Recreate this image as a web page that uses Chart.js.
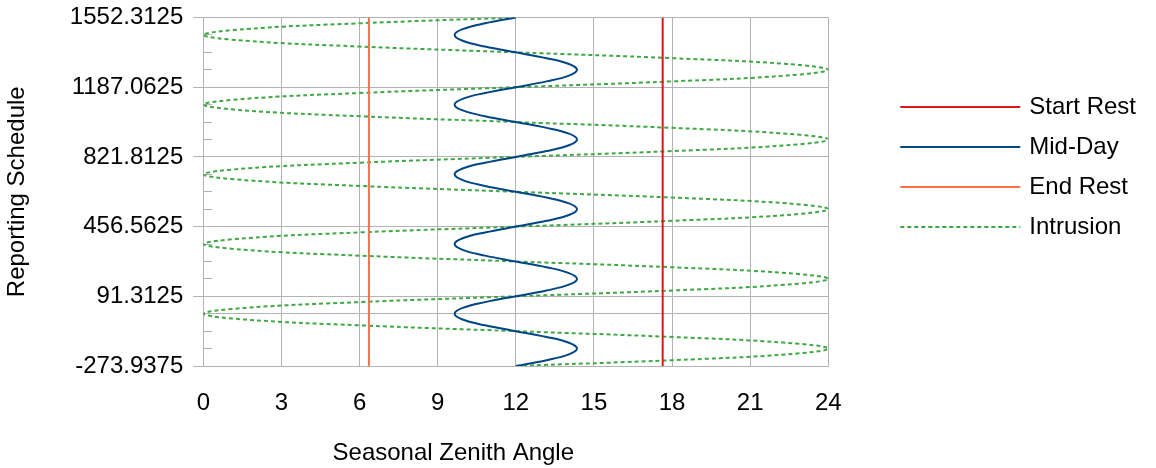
<!DOCTYPE html>
<html>
<head>
<meta charset="utf-8">
<title>Reporting Schedule</title>
<script src="https://cdn.jsdelivr.net/npm/chart.js@4.4.1/dist/chart.umd.min.js"></script>
<style>
  html, body { margin: 0; padding: 0; background: #ffffff; }
  #wrap { width: 1156px; height: 468px; position: relative; }
</style>
</head>
<body>
<div id="wrap"><canvas id="scheduleChart"></canvas></div>
<script>
// Y positions the curves were read at (every ~30 days)
const schedule = [
    -273.9375, -243.5, -213.0625, -182.625, -152.1875, -121.75, -91.3125, -60.875, -30.4375, 0, 30.4375, 60.875,
    91.3125, 121.75, 152.1875, 182.625, 213.0625, 243.5, 273.9375, 304.375, 334.8125, 365.25, 395.6875, 426.125,
    456.5625, 487, 517.4375, 547.875, 578.3125, 608.75, 639.1875, 669.625, 700.0625, 730.5, 760.9375, 791.375,
    821.8125, 852.25, 882.6875, 913.125, 943.5625, 974, 1004.4375, 1034.875, 1065.3125, 1095.75, 1126.1875, 1156.625,
    1187.0625, 1217.5, 1247.9375, 1278.375, 1308.8125, 1339.25, 1369.6875, 1400.125, 1430.5625, 1461, 1491.4375, 1521.875,
    1552.3125
];

// Mid-Day (solid blue)
const midDay = [
    12.0, 13.18, 14.04, 14.35, 14.04, 13.18, 12.0, 10.82, 9.96, 9.65, 9.96, 10.82,
    12.0, 13.18, 14.04, 14.35, 14.04, 13.18, 12.0, 10.82, 9.96, 9.65, 9.96, 10.82,
    12.0, 13.18, 14.04, 14.35, 14.04, 13.18, 12.0, 10.82, 9.96, 9.65, 9.96, 10.82,
    12.0, 13.18, 14.04, 14.35, 14.04, 13.18, 12.0, 10.82, 9.96, 9.65, 9.96, 10.82,
    12.0, 13.18, 14.04, 14.35, 14.04, 13.18, 12.0, 10.82, 9.96, 9.65, 9.96, 10.82,
    12.0
];

// Intrusion (dashed green)
const intrusion = [
    12.0, 18.0, 22.4, 24.0, 22.4, 18.0, 12.0, 6.0, 1.6, 0.0, 1.6, 6.0,
    12.0, 18.0, 22.4, 24.0, 22.4, 18.0, 12.0, 6.0, 1.6, 0.0, 1.6, 6.0,
    12.0, 18.0, 22.4, 24.0, 22.4, 18.0, 12.0, 6.0, 1.6, 0.0, 1.6, 6.0,
    12.0, 18.0, 22.4, 24.0, 22.4, 18.0, 12.0, 6.0, 1.6, 0.0, 1.6, 6.0,
    12.0, 18.0, 22.4, 24.0, 22.4, 18.0, 12.0, 6.0, 1.6, 0.0, 1.6, 6.0,
    12.0
];

// Start / End rest are straight vertical lines
const restSchedule = [-273.9375, 1552.3125];
const startRest = [17.64, 17.64];
const endRest = [6.36, 6.36];

// Axes
const xTicks = [0, 3, 6, 9, 12, 15, 18, 21, 24];
const yTicks = [-273.9375, 91.3125, 456.5625, 821.8125, 1187.0625, 1552.3125];
const yTickLabels = ["-273.9375", "91.3125", "456.5625", "821.8125", "1187.0625", "1552.3125"];
const yMinorTicks = [
    -273.9375, -182.625, -91.3125, 0, 91.3125, 182.625, 273.9375, 365.25, 456.5625, 547.875, 639.1875,
    730.5, 821.8125, 913.125, 1004.4375, 1095.75, 1187.0625, 1278.375, 1369.6875, 1461, 1552.3125
];

const xTitle = "Seasonal Zenith Angle";
const yTitle = "Reporting Schedule";

const GRID = "#b3b3b3";
const CLEAR = "rgba(0,0,0,0)";
const FONT = '24px "Liberation Sans", Arial, sans-serif';

Chart.defaults.font.family = '"Liberation Sans", Arial, sans-serif';
Chart.defaults.font.size = 24;
Chart.defaults.color = "#000000";

function toPoints(xs, ys) {
    return ys.map((y, i) => ({ x: xs[i], y: y }));
}

// x axis title sits left of centre in the original, so draw it here
const xTitlePlugin = {
    id: "xTitle",
    afterDraw(chart) {
        const { ctx, chartArea } = chart;
        ctx.save();
        ctx.font = FONT;
        ctx.fillStyle = "#000000";
        ctx.textAlign = "center";
        ctx.textBaseline = "middle";
        ctx.fillText(xTitle, chartArea.left + chartArea.width * 0.4, chartArea.bottom + 87);
        ctx.restore();
    }
};

// legend on the right, one row per dataset
const sideLegendPlugin = {
    id: "sideLegend",
    afterDraw(chart) {
        const { ctx, chartArea } = chart;
        const x0 = chartArea.right + 72;
        ctx.save();
        ctx.font = FONT;
        ctx.textAlign = "left";
        ctx.textBaseline = "middle";
        chart.data.datasets.forEach((ds, i) => {
            const y = Math.round(chartArea.top + 89.5 + i * 40);
            ctx.strokeStyle = ds.borderColor;
            ctx.lineWidth = ds.borderWidth;
            ctx.setLineDash(ds.borderDash || []);
            ctx.beginPath();
            ctx.moveTo(x0, y);
            ctx.lineTo(x0 + 120, y);
            ctx.stroke();
            ctx.setLineDash([]);
            ctx.fillStyle = "#000000";
            ctx.fillText(ds.label, x0 + 129, y);
        });
        ctx.restore();
    }
};

new Chart(document.getElementById("scheduleChart"), {
    type: "scatter",
    data: {
        datasets: [
            {
                label: "Start Rest",
                data: toPoints(startRest, restSchedule),
                borderColor: "#d7191c",
                backgroundColor: "#d7191c",
                borderWidth: 2,
                showLine: true,
                pointRadius: 0,
                tension: 0,
                yAxisID: "y"
            },
            {
                label: "Mid-Day",
                data: toPoints(midDay, schedule),
                borderColor: "#004586",
                backgroundColor: "#004586",
                borderWidth: 2,
                showLine: true,
                pointRadius: 0,
                tension: 0.4,
                yAxisID: "y"
            },
            {
                label: "End Rest",
                data: toPoints(endRest, restSchedule),
                borderColor: "#ff7043",
                backgroundColor: "#ff7043",
                borderWidth: 2,
                showLine: true,
                pointRadius: 0,
                tension: 0,
                yAxisID: "y"
            },
            {
                label: "Intrusion",
                data: toPoints(intrusion, schedule),
                borderColor: "#3fa845",
                backgroundColor: "#3fa845",
                borderWidth: 2,
                borderDash: [4, 3],
                showLine: true,
                pointRadius: 0,
                tension: 0.4,
                yAxisID: "y"
            }
        ]
    },
    options: {
        responsive: true,
        maintainAspectRatio: false,
        animation: false,
        layout: { autoPadding: false, padding: { top: 17.5, right: 327.7, bottom: 0, left: 0 } },
        plugins: {
            tooltip: { enabled: false },
            legend: { display: false }
        },
        scales: {
            x: {
                type: "linear",
                position: "bottom",
                min: 0,
                max: 24,
                afterBuildTicks: s => { s.ticks = xTicks.map(v => ({ value: v })); },
                afterFit: s => { s.height = 102; },
                grid: { color: GRID, lineWidth: 1, drawTicks: false },
                border: { display: true, color: GRID },
                ticks: { padding: 23, autoSkip: false, maxRotation: 0 }
            },
            y: {
                type: "linear",
                position: "left",
                min: -273.9375,
                max: 1552.3125,
                afterBuildTicks: s => { s.ticks = yTicks.map(v => ({ value: v })); },
                afterFit: s => {
                    s.width = 203.3;
                    s.paddingTop = 0;
                    s.paddingBottom = 0;
                },
                grid: { color: GRID, lineWidth: 1, tickLength: 10, tickColor: GRID },
                border: { display: true, color: GRID },
                ticks: { padding: 10, autoSkip: false, callback: (v, i) => yTickLabels[i] },
                title: { display: true, text: yTitle, padding: { top: 3, bottom: 0 } }
            },
            // minor ticks inside the plot + the y = 0 axis line
            yMinor: {
                type: "linear",
                axis: "y",
                position: { x: 0.35 },
                min: -273.9375,
                max: 1552.3125,
                afterBuildTicks: s => { s.ticks = yMinorTicks.map(v => ({ value: v })); },
                afterFit: s => {
                    s.paddingTop = 0;
                    s.paddingBottom = 0;
                },
                grid: {
                    drawOnChartArea: true,
                    color: c => (c.tick && c.tick.value === 0 ? GRID : CLEAR),
                    tickColor: c => (c.index % 4 === 0 ? CLEAR : GRID),
                    tickLength: 9
                },
                border: { display: false },
                ticks: { display: false }
            }
        }
    },
    plugins: [xTitlePlugin, sideLegendPlugin]
});
</script>
</body>
</html>
